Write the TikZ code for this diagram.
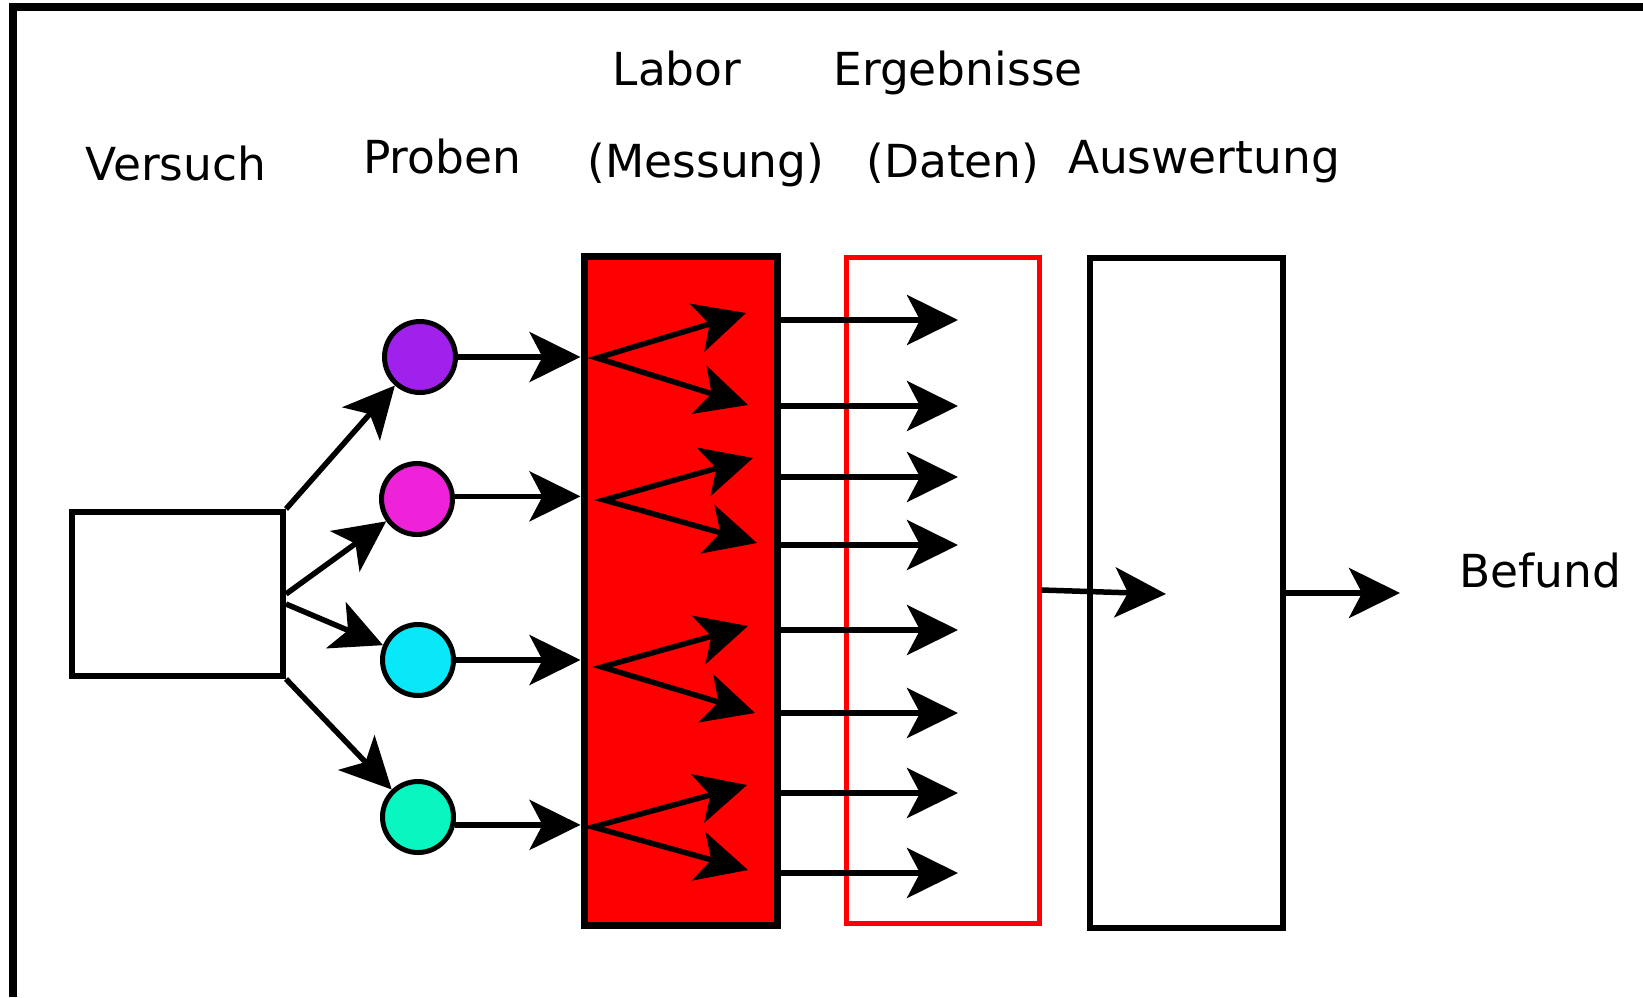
\documentclass[tikz,border=0pt]{standalone}
\usepackage{fontspec}
\setmainfont{DejaVu Sans}
\usetikzlibrary{arrows.meta,calc}
\definecolor{cpurple}{RGB}{160,32,236}
\definecolor{cmagenta}{RGB}{238,34,216}
\definecolor{ccyan}{RGB}{8,232,248}
\definecolor{cteal}{RGB}{10,246,192}
\begin{document}
\begin{tikzpicture}[x=1pt,y=-1pt,
  lab/.style={font=\fontsize{45.5}{54}\selectfont, inner sep=0pt, anchor=base},
  tipx/.tip={Stealth[length=51pt,width=50pt,inset=13pt]},
  arr/.style={line width=5.5pt, -tipx},
  dbl/.style={line width=5.5pt, tipx-tipx, line join=miter},
  sample/.style={circle, draw, line width=5pt, minimum size=71pt, inner sep=0pt},
  colbox/.style={draw, inner sep=0pt, minimum width=193pt}]
\useasboundingbox (0,0) rectangle (1643,997);
% frame
\draw[line width=8pt, line join=miter] (13,997) -- (13,7) -- (1643,7);
% labels
\node[lab] (tLabor) at (677,85) {Labor};
\node[lab] (tErg) at (958,85) {Ergebnisse};
\node[lab] (tVers) at (176,180) {Versuch};
\node[lab] (tProben) at (442,173) {Proben};
\node[lab] (tMess) at (706,177) {(Messung)};
\node[lab] (tDaten) at (953,177) {(Daten)};
\node[lab] (tAusw) at (1204,173) {Auswertung};
\node[lab] (tBef) at (1540,587) {Befund};
% boxes
\node[draw, line width=6pt, inner sep=0pt, minimum width=211pt, minimum height=164pt] (versuch) at (177.5,594) {};
\node[colbox, fill=red, line width=7pt, minimum height=669pt] (labor) at (680.5,590.5) {};
\node[colbox, draw=red, line width=5pt, minimum height=666pt] (daten) at (942.5,590) {};
\node[colbox, line width=6pt, minimum height=670pt] (ausw) at (1186.5,593) {};
% samples
\node[sample, fill=cpurple] (c1) at (420,357) {};
\node[sample, fill=cmagenta] (c2) at (417,499) {};
\node[sample, fill=ccyan] (c3) at (418,660) {};
\node[sample, fill=cteal] (c4) at (418,817) {};
% Versuch -> Proben
\draw[arr] (versuch.north east) -- (c1);
\draw[arr] (versuch.east) -- (c2);
\draw[arr] ([yshift=-10pt]versuch.east) -- (c3);
\draw[arr] (versuch.south east) -- (c4);
% Proben -> Labor
\draw[arr] (c1.east) -- (c1.east -| labor.west);
\draw[arr] (c2.4) -- (c2.4 -| labor.west);
\draw[arr] (c3.east) -- (c3.east -| labor.west);
\draw[arr] (c4.-12) -- (c4.-12 -| labor.west);
% inside Labor
\coordinate (s1) at (597,358); \coordinate (u1) at (746,313); \coordinate (l1) at (748,405);
\coordinate (s2) at (604,500); \coordinate (u2) at (753,458); \coordinate (l2) at (757,543);
\coordinate (s3) at (602,667); \coordinate (u3) at (748,626); \coordinate (l3) at (755,713);
\coordinate (s4) at (593,827); \coordinate (u4) at (747,785); \coordinate (l4) at (748,870);
\draw[dbl] (u1) -- (s1) -- (l1);
\draw[dbl] (u2) -- (s2) -- (l2);
\draw[dbl] (u3) -- (s3) -- (l3);
\draw[dbl] (u4) -- (s4) -- (l4);
% Labor -> Daten
\foreach \i/\yy in {1/320,2/406,3/477,4/545,5/630,6/713,7/793,8/873}{
  \coordinate (o\i) at (958,\yy);
  \draw[arr] (o\i -| labor.east) -- (o\i);
}
% Daten -> Auswertung -> Befund
\coordinate (a1) at (1166,594);
\draw[arr] (daten.east) -- (a1);
\coordinate (b1) at (1400,593);
\draw[arr] (ausw.east) -- (b1);
\end{tikzpicture}
\end{document}
